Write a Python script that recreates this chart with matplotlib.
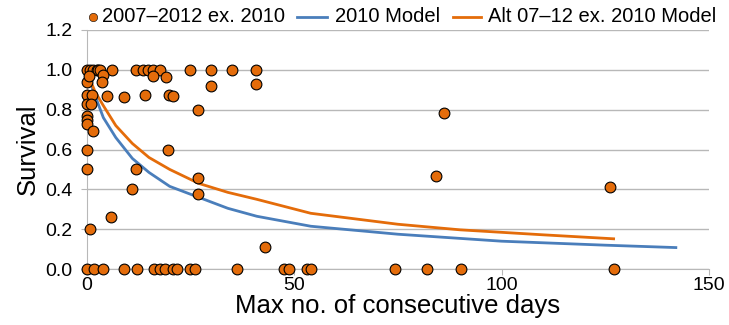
import numpy as np
import matplotlib
matplotlib.use("Agg")
import matplotlib.pyplot as plt
from matplotlib.lines import Line2D

plt.rcParams['font.family'] = ['Liberation Sans', 'DejaVu Sans']

# observed survival, 2007-2012 excluding 2010
obs_x = [0, 0.8, 1.6, 2.4, 2.8, 3.2, 6.0, 11.9, 13.6, 14.8, 15.9, 17.6, 24.9, 29.9, 34.9, 40.9,
         3.8, 15.9, 19.0, 0, 3.6, 0.5, 29.9, 40.9,
         0, 1.2, 4.8, 8.9, 14.0, 19.8, 20.8,
         0, 1.0, 26.7, 0, 0, 0, 1.6, 0, 19.6, 0, 11.9,
         26.7, 26.7, 10.8, 5.9, 0.8, 43.0, 86.1, 84.1, 126.1,
         0, 1.8, 3.8, 8.9, 12.0, 16.2, 17.6, 18.8, 20.9, 21.8, 25.0, 26.1, 36.2, 47.6, 48.7,
         53.1, 54.1, 74.2, 82.1, 90.1, 127.1]
obs_y = [1.0, 1.0, 1.0, 1.0, 1.0, 1.0, 1.0, 1.0, 1.0, 1.0, 1.0, 1.0, 1.0, 1.0, 1.0, 1.0,
         0.975, 0.97, 0.965, 0.94, 0.94, 0.97, 0.92, 0.93,
         0.875, 0.875, 0.87, 0.865, 0.875, 0.875, 0.87,
         0.83, 0.83, 0.80, 0.77, 0.75, 0.73, 0.695, 0.60, 0.60, 0.50, 0.50,
         0.455, 0.375, 0.40, 0.26, 0.20, 0.11, 0.785, 0.465, 0.41,
         0, 0, 0, 0, 0, 0, 0, 0, 0, 0, 0, 0, 0, 0, 0,
         0, 0, 0, 0, 0, 0]

# 2010 model
m2010_x = [0, 2, 4, 7, 11, 15, 20, 27, 34, 41, 54, 75, 100, 125, 142]
m2010_y = [0.99, 0.87, 0.76, 0.66, 0.555, 0.485, 0.415, 0.36, 0.305, 0.265, 0.215, 0.175, 0.14, 0.12, 0.108]

# alternative 07-12 ex. 2010 model
alt_x = [0, 2, 4, 7, 11, 15, 20, 27, 34, 41, 54, 75, 90, 110, 127]
alt_y = [0.99, 0.89, 0.82, 0.72, 0.63, 0.56, 0.50, 0.43, 0.385, 0.35, 0.28, 0.225, 0.197, 0.172, 0.152]

labels = ['2007\u20132012 ex. 2010', '2010 Model', 'Alt 07\u201312 ex. 2010 Model']

blue = '#4A7EBB'
orange = '#E46C0A'
W, H = 729.0, 325.0

fig = plt.figure(figsize=(7.29, 3.25), dpi=100)
ax = fig.add_axes([0.119, 0.172, 0.8536, 0.736])

ax.plot(m2010_x, m2010_y, color=blue, lw=2.0, zorder=2)
ax.plot(alt_x, alt_y, color=orange, lw=2.0, zorder=2)
ax.scatter(obs_x, obs_y, s=60, color=orange, edgecolor='black', linewidth=0.8, zorder=3, clip_on=False)

ax.set_xlim(0, 150)
ax.set_ylim(0, 1.2)
ax.set_xticks([0, 50, 100, 150])
ax.set_yticks(np.arange(0, 1.21, 0.2))
ax.set_yticklabels(['%.1f' % v for v in np.arange(0, 1.21, 0.2)])
ax.grid(axis='y', color='#b8b8b8', lw=1.0)
ax.set_axisbelow(True)
for s in ['top', 'right']:
    ax.spines[s].set_visible(False)
for s in ['left', 'bottom']:
    ax.spines[s].set_color('#b8b8b8')
ax.tick_params(axis='both', colors='#b8b8b8', labelcolor='black', labelsize=14, length=4)
ax.tick_params(axis='y', pad=6)
ax.tick_params(axis='x', pad=2)

ax.set_xlabel('Max no. of consecutive days', fontsize=18.5, labelpad=0)
ax.set_ylabel('Survival', fontsize=18.5, labelpad=4)

# legend drawn by hand so the entries sit where they do in the original
ly = 1 - 17 / H
fs = 14.5
fig.add_artist(Line2D([93.3 / W], [ly], marker='o', ls='none', color=orange,
                      markeredgecolor='black', markeredgewidth=0.4, markersize=6))
fig.text(101.7 / W, ly, labels[0], fontsize=fs, va='center')
fig.add_artist(Line2D([297 / W, 327 / W], [ly, ly], color=blue, lw=2.0))
fig.text(335 / W, ly, labels[1], fontsize=fs, va='center')
fig.add_artist(Line2D([453 / W, 481 / W], [ly, ly], color=orange, lw=2.0))
fig.text(488 / W, ly, labels[2], fontsize=fs, va='center')

fig.savefig('out.png', dpi=100)
